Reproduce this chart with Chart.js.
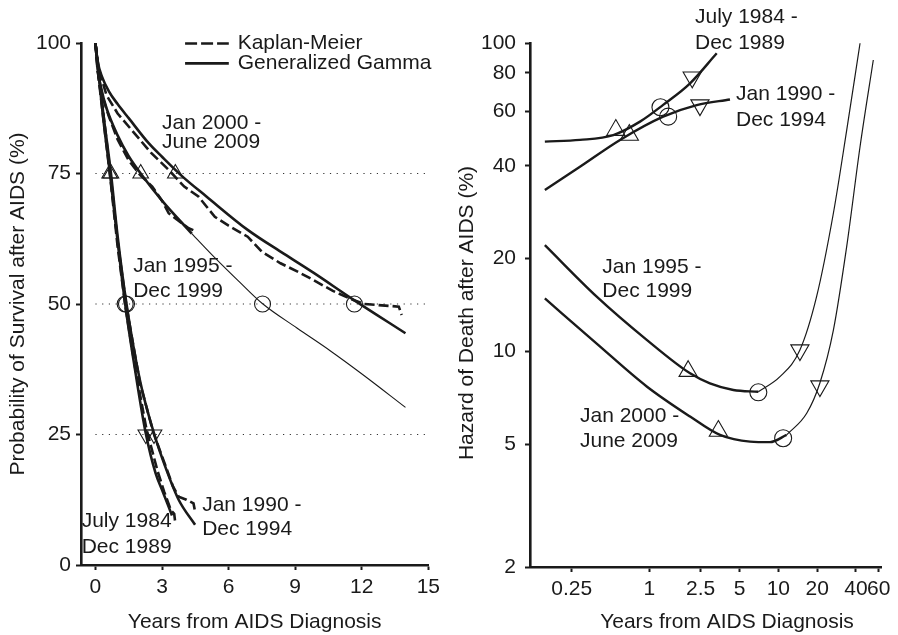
<!DOCTYPE html>
<html>
<head>
<meta charset="utf-8">
<script src="https://cdn.jsdelivr.net/npm/chart.js@4.4.0/dist/chart.umd.min.js"></script>
<style>
  html, body { margin: 0; padding: 0; background: #fff; }
  #wrap { position: relative; width: 898px; height: 635px; }
  canvas { position: absolute; top: 0; }
  #surv { left: 0; }
  #haz { left: 445px; }
</style>
</head>
<body>
<div id="wrap">
  <canvas id="surv" width="445" height="635"></canvas>
  <canvas id="haz" width="453" height="635"></canvas>
</div>
<script>
const INK = '#1a1a1a';
const FONT = '"Liberation Sans", Arial, Helvetica, sans-serif';
Chart.defaults.font.family = FONT;
Chart.defaults.font.size = 21;
Chart.defaults.color = INK;

// ---------- Survival panel: years from diagnosis vs % surviving ----------
const survXTicks = [0, 3, 6, 9, 12, 15];
const survYTicks = [0, 25, 50, 75, 100];
const refLevels = [25, 50, 75];

// Kaplan-Meier estimates by diagnosis era
const km8489 = [[0,100],[0.15,93],[0.4,84],[0.7,73],[1.0,61],[1.35,49.5],[1.8,37.5],[2.3,26],[2.8,18],[3.1,14],[3.4,10.5],[3.55,9.8],[3.6,8]];
const km9094 = [[0,100],[0.15,93.5],[0.4,85],[0.7,74],[1.0,62],[1.4,49.5],[2.0,35],[2.6,25.5],[3.2,18.5],[3.5,15],[3.75,13.1],[4.1,12.5],[4.42,11.8],[4.49,10.2]];
const km9599 = [[0,100],[0.1,94.5],[0.3,90],[0.6,86],[1.0,81.5],[1.5,77.5],[2.0,74.8],[2.56,72.5],[3.0,69.8],[3.3,67.4],[3.89,65.5],[4.2,64.5],[4.5,64],[4.55,63.8]];
const km0009 = [[0,100],[0.15,95],[0.5,90],[1.0,86.5],[1.5,84],[2.0,81.5],[2.5,79],[3.3,75.7],[4.0,72.5],[4.64,70.6],[5.38,66.7],[6.0,65],[6.86,62.9],[7.5,60],[8.34,57.8],[9.2,56],[9.82,54.6],[10.7,52.5],[11.6,50.8],[12.1,50.0],[13.67,49.5],[13.8,47.9]];

// Generalized gamma fits (fitted range, then extrapolation for 1995-1999)
const gg8489 = [[0,100],[0.12,95],[0.34,86],[0.64,75.5],[1.0,62],[1.34,50],[1.8,37],[2.27,25.2],[2.71,17.6],[3.0,14.4],[3.45,9.5]];
const gg9094 = [[0,100],[0.12,95.5],[0.34,87],[0.7,75],[1.0,63],[1.4,50],[2.0,35.5],[2.64,25.2],[3.15,18.8],[3.75,12.5],[4.49,7.7]];
const gg9599 = [[0,100],[0.1,95],[0.25,91.5],[0.5,87.5],[1.0,82.3],[1.5,78.3],[2.04,75],[3.0,69.8],[4.34,63.5]];
const gg9599Ext = [[4.34,63.5],[5.4,58.8],[6.5,54.2],[7.52,50.1],[9.08,45.4],[10.56,41.1],[12.04,36.5],[13.97,30.2]];
const gg0009 = [[0,100],[0.1,96.5],[0.3,93.5],[0.6,90.8],[1.0,88.3],[1.5,85.6],[2.4,80.8],[3.0,78.2],[3.9,74.5],[5.0,70.6],[6.86,64.2],[8.5,59.6],[9.82,56.0],[11.6,50.9],[13.97,44.4]];

// Times at which survival reaches 75%, 50% and 25%
const surv75 = [[0.64,75],[0.7,75],[2.04,75],[3.6,75]];
const surv50 = [[1.34,50],[1.4,50],[7.53,50],[11.67,50]];
const surv25 = [[2.27,25],[2.64,25]];

// ---------- Hazard panel: years from diagnosis vs hazard (%) ----------
const hazXTicks = [0.25, 1, 2.5, 5, 10, 20, 40, 60];
const hazYTicks = [2, 5, 10, 20, 40, 60, 80, 100];

const hz8489 = [[0.155,47.9],[0.29,48.5],[0.526,50.3],[0.847,55.6],[1.28,63],[2.07,74],[3.33,92.6]];
const hz9094 = [[0.155,33.4],[0.29,39.7],[0.593,48.5],[1.28,57.7],[2.33,62.9],[4.22,65.6]];
const hz9599 = [[0.155,22.1],[0.391,15.05],[0.955,10.9],[2.07,8.49],[2.95,7.88],[4.48,7.5],[7.0,7.4]];
const hz9599Ext = [[7.0,7.4],[10.3,8.28],[14.7,10.1],[19.8,15.05],[26.7,28.0],[33.9,52.2],[43,99.8]];
const hz0009 = [[0.155,14.85],[0.391,10.6],[0.955,7.7],[2.07,6.15],[3.53,5.36],[6.04,5.1],[8.63,5.08],[11.6,5.36]];
const hz0009Ext = [[11.6,5.36],[16.6,6.3],[21.0,7.9],[26.7,11.7],[33.9,21.9],[43,46.1],[54.5,88.1]];

const haz75 = [[0.55,52.2],[0.70,50.3],[2.0,8.63],[3.43,5.52]];
const haz50 = [[1.22,61.9],[1.40,57.7],[7.0,7.37],[10.9,5.23]];
const haz25 = [[2.15,77.4],[2.47,62.9],[14.7,10.1],[21.0,7.72]];

// Era captions, anchored in data coordinates
const survCaptions = [
  { lines: ['Jan 2000 -', 'June 2009'], x: 3.0, y: [84.6, 81.0] },
  { lines: ['Jan 1995 -', 'Dec 1999'], x: 1.70, y: [57.3, 52.5] },
  { lines: ['July 1984', 'Dec 1989'], x: -0.62, y: [8.3, 3.35] },
  { lines: ['Jan 1990 -', 'Dec 1994'], x: 4.81, y: [11.55, 6.8] }
];
const hazCaptions = [
  { lines: ['July 1984 -', 'Dec 1989'], x: 2.26, y: [121, 100.1] },
  { lines: ['Jan 1990 -', 'Dec 1994'], x: 4.70, y: [68.1, 56.3] },
  { lines: ['Jan 1995 -', 'Dec 1999'], x: 0.432, y: [18.8, 15.7] },
  { lines: ['Jan 2000 -', 'June 2009'], x: 0.290, y: [6.17, 5.11] }
];

// ---------- helpers ----------
const pts = a => a.map(([x, y]) => ({ x, y }));

function curve(data, width, dash, order) {
  return {
    data: pts(data), borderColor: INK, borderWidth: width, borderDash: dash || [],
    pointRadius: 0, pointHoverRadius: 0, fill: false, order: order,
    cubicInterpolationMode: dash ? 'default' : 'monotone', tension: 0
  };
}
function markers(data, style, radius, rotation) {
  return {
    data: pts(data), showLine: false, pointStyle: style, pointRadius: radius,
    pointRotation: rotation || 0, pointBorderColor: INK, pointBorderWidth: 1.1,
    pointBackgroundColor: 'rgba(0,0,0,0)', borderColor: INK,
    backgroundColor: 'rgba(0,0,0,0)', order: 0
  };
}
function axisLook(tickLen) {
  return {
    grid: { display: true, drawOnChartArea: false, drawTicks: true, tickLength: tickLen, tickWidth: 2, tickColor: INK },
    border: { display: true, color: INK, width: 2.6 }
  };
}
const fixedTicks = list => scale => { scale.ticks = list.map(v => ({ value: v })); };

function captionLayer(id, captions, extra) {
  return {
    id,
    afterDatasetsDraw(chart) {
      const { ctx, scales: { x, y } } = chart;
      ctx.save();
      ctx.fillStyle = INK;
      ctx.font = `21px ${FONT}`;
      ctx.textBaseline = 'middle';
      ctx.textAlign = 'left';
      captions.forEach(c => {
        c.lines.forEach((t, i) => ctx.fillText(t, x.getPixelForValue(c.x), y.getPixelForValue(c.y[i])));
      });
      if (extra) extra(chart, ctx);
      ctx.restore();
    }
  };
}

// legend for line types, drawn in the survival panel
function drawLegend(chart, ctx) {
  const { x, y } = chart.scales;
  const rows = [
    { text: 'Kaplan-Meier', yv: 99.9, dash: [12, 4] },
    { text: 'Generalized Gamma', yv: 96.1, dash: [] }
  ];
  rows.forEach(r => {
    const py = y.getPixelForValue(r.yv);
    ctx.save();
    ctx.strokeStyle = INK;
    ctx.lineWidth = 2.7;
    ctx.setLineDash(r.dash);
    ctx.beginPath();
    ctx.moveTo(x.getPixelForValue(4.04), py);
    ctx.lineTo(x.getPixelForValue(6.01), py);
    ctx.stroke();
    ctx.restore();
    ctx.fillText(r.text, x.getPixelForValue(6.41), py);
  });
}

// ---------- survival chart ----------
const survSets = [
  markers(surv75, 'triangle', 9, 0),
  markers(surv50, 'circle', 8, 0),
  markers(surv25, 'triangle', 9, 180),
  curve(gg8489, 2.6, null, 1),
  curve(gg9094, 2.6, null, 1),
  curve(gg9599, 2.6, null, 1),
  curve(gg9599Ext, 1.1, null, 1),
  curve(gg0009, 2.6, null, 1),
  curve(km8489, 2.6, [10, 4], 2),
  curve(km9094, 2.6, [10, 4], 2),
  curve(km9599, 2.6, [10, 4], 2),
  curve(km0009, 2.6, [10, 4], 2)
];
refLevels.forEach(v => {
  survSets.push({
    data: pts([[survXTicks[0], v], [survXTicks[survXTicks.length - 1], v]]),
    borderColor: '#333', borderWidth: 1.2, borderDash: [1.2, 5.5],
    pointRadius: 0, fill: false, order: 3
  });
});

new Chart(document.getElementById('surv'), {
  type: 'line',
  data: { datasets: survSets },
  options: {
    responsive: false, animation: false, events: [],
    layout: { padding: { top: 43, right: 12, bottom: 0, left: 0 } },
    plugins: { legend: { display: false }, tooltip: { enabled: false } },
    scales: {
      x: {
        type: 'linear', min: -0.65, max: 15,
        afterBuildTicks: fixedTicks(survXTicks),
        afterFit: s => { s.height = 70; },
        ticks: { autoSkip: false, maxRotation: 0, padding: 5, color: INK },
        title: { display: true, text: 'Years from AIDS Diagnosis', color: INK, padding: { top: 0, bottom: 0 } },
        ...axisLook(5)
      },
      y: {
        type: 'linear', min: 0, max: 100,
        afterBuildTicks: fixedTicks(survYTicks),
        afterFit: s => { s.width = 81; },
        ticks: { padding: 5, color: INK },
        title: { display: true, text: 'Probability of Survival after AIDS (%)', color: INK, padding: { top: 5.5, bottom: 0 } },
        ...axisLook(5)
      }
    }
  },
  plugins: [captionLayer('survCaptions', survCaptions, drawLegend)]
});

// ---------- hazard chart ----------
const hazSets = [
  markers(haz75, 'triangle', 10.5, 0),
  markers(haz50, 'circle', 8.5, 0),
  markers(haz25, 'triangle', 10.5, 180),
  curve(hz8489, 2.4, null, 1),
  curve(hz9094, 2.4, null, 1),
  curve(hz9599, 2.4, null, 1),
  curve(hz9599Ext, 1.2, null, 1),
  curve(hz0009, 2.4, null, 1),
  curve(hz0009Ext, 1.2, null, 1)
];

function hazTitles(chart, ctx) {
  ctx.textAlign = 'center';
  ctx.fillText('Years from AIDS Diagnosis', 282, 622);
  ctx.save();
  ctx.translate(22.5, 313);
  ctx.rotate(-Math.PI / 2);
  ctx.fillText('Hazard of Death after AIDS (%)', 0, 0);
  ctx.restore();
}

new Chart(document.getElementById('haz'), {
  type: 'line',
  data: { datasets: hazSets },
  options: {
    responsive: false, animation: false, events: [],
    layout: { padding: { top: 43, right: 16.3, bottom: 0, left: 0 } },
    plugins: { legend: { display: false }, tooltip: { enabled: false } },
    scales: {
      x: {
        type: 'logarithmic', min: 0.1189, max: 63.3,
        afterBuildTicks: fixedTicks(hazXTicks),
        afterFit: s => { s.height = 68; },
        ticks: { autoSkip: false, maxRotation: 0, padding: 5, color: INK, callback: v => String(v) },
        ...axisLook(5)
      },
      y: {
        type: 'logarithmic', min: 2, max: 100,
        afterBuildTicks: fixedTicks(hazYTicks),
        afterFit: s => { s.width = 85; },
        ticks: { padding: 9, color: INK, callback: v => String(v) },
        ...axisLook(5)
      }
    }
  },
  plugins: [captionLayer('hazCaptions', hazCaptions, hazTitles)]
});
</script>
</body>
</html>
